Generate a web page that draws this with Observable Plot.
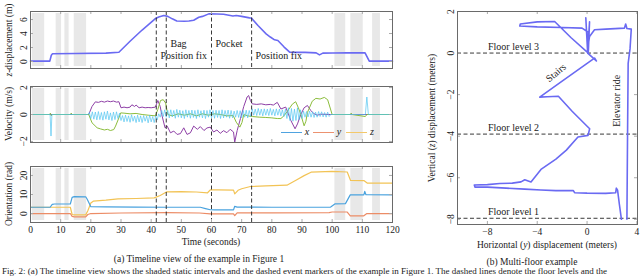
<!DOCTYPE html>
<html><head><meta charset="utf-8">
<script src="https://cdn.jsdelivr.net/npm/d3@7"></script>
<script src="https://cdn.jsdelivr.net/npm/@observablehq/plot@0.6"></script>
<style>
body{margin:0;background:#fff}
#root{position:relative;width:640px;height:276px;overflow:hidden;font-family:"Liberation Serif",serif;color:#222}
.pl{position:absolute;left:0}
.lbl{position:absolute;white-space:nowrap;font-size:9.5px;line-height:1;transform:translate(-50%,-50%)}
.rot{transform:translate(-50%,-50%) rotate(-90deg)}
.leg{position:absolute;height:0;border-top:1.5px solid}
</style></head>
<body><div id="root"></div>
<script>
// ---------- data ----------
const timeTicks = [0,10,20,30,40,50,60,70,80,90,100,110,120];
const shadeStart = [0.6, 8.5, 11.4, 14.5, 100.9, 106.2, 113.4];
const shadeEnd   = [4.7, 10.3, 12.8, 18.6, 104.5, 110.3, 116.0];
const eventTimes = [41.7, 45, 60, 73.3];

const zTicks = [0,2,4,6];
const zTime = [0,6.4,6.9,7.3,15,25,29.3,33,37,41.3,42.5,44.2,45.5,47,48.5,51,52.5,54.1,55.8,57,59.1,61.8,64,67.1,68.2,70,72.6,73.2,75.4,78.1,79.5,80.9,82,84,85.9,88,91,94.7,95.8,96.9,100.2,105,110.9,112.3,120];
const zDisp = [0.05,0.05,0.9,1.1,1.15,1.2,1.33,2.9,4.5,6.1,6.35,6.57,6.45,6.1,5.8,5.75,5.8,5.9,6.33,6.45,6.81,6.8,6.75,6.5,6.57,6.45,6.24,6.22,5.14,3.95,3.5,3.1,3.0,2.1,1.33,1.3,1.3,1.24,0.95,1.2,1.22,1.24,1.24,0.05,0.05];
const annotT = [46.4, 43.1, 61.3, 74.6];
const annotZ = [2.6, 0.85, 2.6, 0.75];
const annotText = ["Bag","Position fix","Pocket","Position fix"];

const velTicks = [-2,0,2];
const velPurple = [[0,0],[19.3,0],[20.4,0.6],[21.5,0.94],[22.5,0.9],[23.5,0.98],[24.5,0.92],[25.5,1.0],[26.5,0.95],[27.5,1.0],[28.5,0.92],[29.3,0.95],[30,0.5],[31,0.55],[32,0.5],[33,0.55],[33.6,0.72],[34.5,0.6],[35,0.7],[36,0.5],[37,0.55],[38,0.5],[39,0.52],[40,0.5],[41.4,0.55],[42.2,1.04],[43,0.6],[43.5,0],[44.6,-0.99],[45.3,-0.86],[46.4,-1.36],[47.5,-1.23],[48.6,-1.48],[49.7,-1.42],[50.8,-0.99],[51.9,-1.48],[53,-1.36],[54.1,-0.86],[55.3,-1.1],[56.3,-0.9],[57.5,-1.19],[58.5,-1.0],[59.6,-0.94],[60.7,-1.3],[61.8,-1.15],[62.9,-1.4],[64,-1.2],[65.1,-1.35],[66.2,-1.1],[67.3,-1.3],[67.7,-2.05],[68.5,-1.2],[69.6,-0.3],[70.7,0.6],[71.8,1.3],[72.3,1.41],[72.9,1.04],[73.5,0.79],[75,0.75],[76.5,0.79],[78,0.72],[79.5,0.75],[80.5,0.7],[81.8,0.9],[82.3,0.7],[83,0.41],[84.6,0.55],[86.3,-0.44],[87.7,-1.06],[88.5,-0.7],[89.6,0],[90.7,0.5],[91.8,0.67],[92.9,0.3],[94,0.05],[95.1,-0.05],[96.2,0.02],[99.5,0],[120,0]];
const velGreen = [[0,0],[6.3,0],[6.6,0.1],[6.9,-0.1],[7.2,0],[13.2,0],[13.5,0.1],[13.8,0],[19.3,0],[20.4,-0.62],[22.1,-0.99],[23.2,-1.07],[24.5,-1.15],[25.5,-1.1],[26.5,-1.19],[27.6,-1.12],[28.2,-0.86],[29.3,-0.25],[29.9,0.12],[31,0.1],[33,0.05],[35,0.08],[37,0.0],[39,-0.05],[41.4,-0.1],[42.2,0.37],[43.1,1.04],[44,1.1],[44.8,0.85],[45.5,0],[47,-0.1],[49,0.05],[51,-0.05],[53,0.05],[55,-0.1],[57,0.05],[59,-0.05],[61,0.05],[63,0],[65,-0.1],[67.2,-0.08],[68.2,-0.57],[69.4,-0.94],[70.1,-0.6],[70.7,0],[72,-0.1],[73.5,-0.15],[76,-0.2],[78,-0.22],[80,-0.25],[81.8,-0.3],[83,-0.3],[84,-0.1],[85.2,0.25],[86.8,0.77],[87.9,0.95],[88.8,0.5],[89.6,0],[90.7,-0.84],[91.3,-0.5],[91.8,0.15],[93.4,0.99],[94.6,1.2],[96,1.15],[97.4,1.27],[98.5,1.1],[100,0],[106,0],[106.3,0.1],[106.6,0],[111,-0.15],[111.5,0.0],[120,0]];
const velCyan = [[0,0],[6.5,0],[6.8,-1.6],[7.1,0],[19,0],
[19.5,0.15],[20,-0.3],[20.5,0.2],[21,-0.35],[21.5,0.18],[22,-0.4],[22.5,0.22],[23,-0.38],[23.5,0.15],[24,-0.42],[24.5,0.2],[25,-0.35],[25.5,0.25],[26,-0.4],[26.5,0.12],[27,-0.45],[27.5,0.18],[28,-0.38],[28.5,0.2],[29,-0.3],[29.5,0.1],
[30,-0.45],[30.5,-0.08],[31,-0.55],[31.5,-0.05],[32,-0.52],[32.5,-0.1],[33,-0.58],[33.5,-0.02],[34,-0.5],[34.5,-0.12],[35,-0.6],[35.5,-0.05],[36,-0.55],[36.5,-0.1],[37,-0.6],[37.5,-0.08],[38,-0.5],[38.5,-0.12],[39,-0.62],[39.5,-0.05],[40,-0.55],[40.5,-0.15],[41,-0.6],[41.5,-0.1],[42,-0.4],[42.5,0.05],[43,-0.2],
[43.5,0.3],[44,-0.15],[44.5,0.35],[45,-0.2],[45.5,0.3],[46,-0.25],[46.5,0.35],[47,-0.18],[47.5,0.3],[48,-0.28],[48.5,0.38],[49,-0.2],[49.5,0.32],[50,-0.25],[50.5,0.28],[51,-0.3],[51.5,0.35],[52,-0.2],[52.5,0.3],[53,-0.28],[53.5,0.33],[54,-0.22],[54.5,0.3],[55,-0.3],[55.5,0.35],[56,-0.2],[56.5,0.28],[57,-0.25],[57.5,0.32],[58,-0.3],[58.5,0.3],[59,-0.2],[59.5,0.35],[60,-0.25],[60.5,0.3],[61,-0.28],[61.5,0.32],[62,-0.22],[62.5,0.3],[63,-0.3],[63.5,0.35],[64,-0.25],[64.5,0.3],[65,-0.2],[65.5,0.33],[66,-0.28],[66.5,0.3],[67,-0.25],[67.5,0.25],[68,-0.2],[68.5,0.3],[69,-0.22],[69.5,0.28],[70,-0.25],[70.5,0.3],[71,-0.2],[71.5,0.32],[72,-0.25],[72.5,0.3],
[73,-0.15],[73.5,0.42],[74,-0.05],[74.5,0.4],[75,-0.08],[75.5,0.45],[76,-0.05],[76.5,0.4],[77,-0.1],[77.5,0.42],[78,-0.05],[78.5,0.4],[79,-0.08],[79.5,0.45],[80,-0.05],[80.5,0.38],[81,-0.1],[81.5,0.42],[82,-0.05],[82.5,0.4],[83,-0.1],[83.5,0.35],[84,-0.15],[84.5,0.4],
[85,-0.3],[85.5,0.5],[86,-0.45],[86.5,0.45],[87,-0.5],[87.5,0.4],[88,-0.45],[88.5,0.5],[89,-0.4],[89.5,0.35],[90,-0.3],[90.5,0.25],[91,-0.2],[91.5,0.22],[92,-0.18],[92.5,0.25],[93,-0.2],[93.5,0.2],[94,-0.22],[94.5,0.18],[95,-0.2],[95.5,0.22],[96,-0.15],[96.5,0.2],[97,-0.18],[97.5,0.15],[98,-0.2],[98.5,0.18],[99,-0.15],[99.5,0],
[111,0],[111.5,1.3],[112,0],[120,0]];

const oriTicks = [0,10,20];
const oriBlue = [[0,3.3],[6.5,3.3],[7.2,4.8],[8,5.0],[13.2,5.0],[13.8,8.5],[14.5,8.9],[18.3,8.8],[18.8,7.5],[20,3.6],[25,3.5],[35,3.4],[45,3.3],[56.3,3.3],[58,2.6],[59.6,2.0],[61,1.9],[67.3,1.9],[67.7,3.8],[68.5,3.4],[80,3.3],[99.5,3.4],[101,5.1],[104.4,5.2],[106,9.8],[110.5,9.8],[110.8,11.6],[111.2,9.9],[120,9.8]];
const oriOrange = [[0,0],[13.2,0],[13.8,-1.5],[14.5,-1.7],[18.3,-1.7],[19,-0.5],[20,0],[30,0.3],[45,0.5],[56,0.3],[59.6,-0.2],[67.3,-0.2],[67.7,-1.1],[68.5,0.4],[80,0.4],[99,0.5],[100,0.8],[105,0.8],[106,-1.2],[110.5,-1.2],[111.5,0],[120,0]];
const oriYellow = [[0,3.3],[13.2,3.3],[13.8,-0.5],[14.5,-0.7],[18.3,-0.7],[19,1.5],[20,5.5],[20.8,6.5],[25,7.0],[29,7.7],[35,7.9],[41,8.2],[43,9.5],[45.2,11.4],[50,11.5],[55,11.3],[58.7,10.9],[59.6,12.4],[62,12.4],[67.3,12.3],[67.7,10.3],[68.8,12.2],[70,13.0],[72.9,14.2],[78,14.5],[85,14.9],[88,17.5],[90.7,19.9],[93,21.7],[100,22.1],[105,21.8],[106.1,17.4],[110.5,17.3],[111.6,16],[120,16]];

const hTicks = [-8,-4,0,4];
const vTicks = [-8,-6,-4,-2,0,2];
const floorZ = [0, -3.9, -7.95];
const floorText = ["Floor level 3","Floor level 2","Floor level 1"];
const floorTextZ = [0.32, -3.6, -7.65];
const track = [[2.76,-8.0],[2.6,-7.3],[2.45,-6.6],[2.35,-6.5],[2.3,-6.72],[1.5,-6.75],[0,-6.74],[-1.0,-6.72],[-1.1,-6.62],[-2.5,-6.62],[-3.7,-6.59],[-5,-6.55],[-6.5,-6.5],[-8,-6.45],[-9.0,-6.45],[-9.05,-6.35],[-8,-6.33],[-7,-6.28],[-6,-6.26],[-5.3,-6.2],[-5.0,-6.1],[-4.5,-6.2],[-3.7,-5.6],[-2.5,-5.1],[-1.66,-4.67],[-0.73,-4.04],[0.08,-3.96],[0.21,-3.64],[-1.2,-2.8],[-2.3,-2.08],[-3.2,-2.1],[-3.8,-2.12],[-2,-1.35],[0.6,-0.24],[0.75,-0.38],[0.05,0],[-0.1,1.7],[0.05,0.05],[0.2,1.5],[0.1,0.0],[-1.3,0.75],[-2.6,1.52],[-4,1.5],[-5.36,1.4],[-5.4,1.3],[-4,1.26],[-2,1.23],[-0.4,1.2],[0.1,1.0],[0.1,0.4],[0.2,0.8],[0.6,1.12],[1.5,1.15],[3.0,1.2],[3.1,1.4],[3.2,1.18],[3.55,1.15],[3.45,0.2],[3.3,-0.5],[3.25,-4],[3.2,-8.0]];
const stairsPos = [-2.5, -0.95];
const elevPos = [2.35, -2.3];

// ---------- helpers ----------
const FONT = "Liberation Serif";
const minus = d => d < 0 ? "\u2212" + (-d) : String(d);
const root = document.getElementById("root");
function place(el, top, left = 0){ el.classList.add("pl"); el.style.top = top + "px"; el.style.left = left + "px"; root.appendChild(el); }
function label(html, x, y, rot=false, size=9.5){ const d=document.createElement("div"); d.className="lbl"+(rot?" rot":""); d.style.left=x+"px"; d.style.top=y+"px"; d.style.fontSize=size+"px"; d.innerHTML=html; root.appendChild(d); return d; }
const shades = shadeStart.map((s,i)=>({a:s,b:shadeEnd[i]}));
const style = {fontFamily: FONT, fontSize: "9.5px", background: "transparent", overflow: "visible", color: "#222"};

function timePanel({top, height, mt, mb, yDomain, yTicks, marks, showX}){
  const W = 400, ml = 30, mr = 8;
  const fw = W - ml - mr, fh = height - mt - mb;
  const p = Plot.plot({
    width: W, height, marginLeft: ml, marginRight: mr, marginTop: mt, marginBottom: mb, style,
    x: {domain: [0,120], axis: null},
    y: {domain: yDomain, axis: null},
    marks: [
      Plot.rect(shades, {x1: "a", x2: "b", fill: "#e8e8e8", insetTop: 2, insetBottom: 2}),
      ...marks,
      Plot.ruleX(eventTimes, {x: d=>d, stroke: "#222", strokeWidth: 0.9, strokeDasharray: "4,2.5"}),
      Plot.tickX(timeTicks, {x: d=>d, stroke: "#aaa", insetTop: fh-3}),
      Plot.tickX(timeTicks, {x: d=>d, stroke: "#aaa", insetBottom: fh-3}),
      Plot.tickY(yTicks, {y: d=>d, stroke: "#aaa", insetRight: fw-3}),
      Plot.tickY(yTicks, {y: d=>d, stroke: "#aaa", insetLeft: fw-3}),
      Plot.frame({stroke: "#6a6a6a", strokeWidth: 1}),
      Plot.axisY(yTicks, {tickSize: 0, tickPadding: 4, tickRotate: -90, tickFormat: minus, label: null}),
      showX ? Plot.axisX(timeTicks, {tickSize: 0, tickPadding: 4, label: null}) : null
    ]
  });
  place(p, top);
}

const lineOf = (arr, stroke, w=1, op=1) => Plot.line(arr, {x: d=>d[0], y: d=>d[1], stroke, strokeWidth: w, strokeOpacity: op});

// panel 1: z displacement
const zData = zTime.map((t,i)=>[t, zDisp[i]]);
const annots = annotT.map((t,i)=>({t, z: annotZ[i], s: annotText[i]}));
timePanel({top: 0, height: 76, mt: 11, mb: 8, yDomain: [-1, 7.15], yTicks: zTicks, showX: false, marks: [
  lineOf(zData, "#6a6af2", 1.6),
  Plot.text(annots, {x: "t", y: "z", text: "s", textAnchor: "start", fontSize: 10, fill: "#222"})
]});

// panel 2: velocity
timePanel({top: 78, height: 70, mt: 8, mb: 6, yDomain: [-2.08, 2.08], yTicks: velTicks, showX: false, marks: [
  lineOf(velPurple, "#8e3fa6", 1),
  lineOf(velGreen, "#8cbd3c", 1),
  lineOf(velCyan, "#4fc4f0", 0.8, 0.85)
]});

// panel 3: orientation
timePanel({top: 158, height: 98, mt: 8, mb: 34, yDomain: [-4.7, 24.7], yTicks: oriTicks, showX: true, marks: [
  lineOf(oriYellow, "#f2c355", 1.2),
  lineOf(oriBlue, "#49a2de", 1.2),
  lineOf(oriOrange, "#ec8c66", 1.2)
]});

// right chart
{
  const W = 220, H = 245, ml = 37, mr = 3, mt = 11, mb = 21;
  const fw = W - ml - mr, fh = H - mt - mb;
  const floors = floorZ.map((z,i)=>({z, tz: floorTextZ[i], s: floorText[i]}));
  const p = Plot.plot({
    width: W, height: H, marginLeft: ml, marginRight: mr, marginTop: mt, marginBottom: mb, style,
    x: {domain: [-10.4, 4.05], axis: null},
    y: {domain: [-8.25, 2], axis: null},
    marks: [
      Plot.ruleY(floors, {y: "z", stroke: "#222", strokeWidth: 0.9, strokeDasharray: "4,2.5"}),
      Plot.line(track, {x: d=>d[0], y: d=>d[1], stroke: "#6a6af2", strokeWidth: 1.6}),
      Plot.text(floors, {x: -7.95, y: "tz", text: "s", textAnchor: "start", fontSize: 10, fill: "#222"}),
      Plot.text([stairsPos], {x: d=>d[0], y: d=>d[1], text: ["Stairs"], rotate: -40, fontSize: 10, fill: "#222"}),
      Plot.text([elevPos], {x: d=>d[0], y: d=>d[1], text: ["Elevator ride"], rotate: -90, fontSize: 10, fill: "#222"}),
      Plot.tickX(hTicks, {x: d=>d, stroke: "#aaa", insetTop: fh-3}),
      Plot.tickX(hTicks, {x: d=>d, stroke: "#aaa", insetBottom: fh-3}),
      Plot.tickY(vTicks, {y: d=>d, stroke: "#aaa", insetRight: fw-3}),
      Plot.tickY(vTicks, {y: d=>d, stroke: "#aaa", insetLeft: fw-3}),
      Plot.frame({stroke: "#6a6a6a", strokeWidth: 1}),
      Plot.axisY(vTicks, {tickSize: 0, tickPadding: 4, tickRotate: -90, tickFormat: minus, label: null}),
      Plot.axisX(hTicks, {tickSize: 0, tickPadding: 4, tickFormat: minus, label: null})
    ]
  });
  place(p, 0, 420);
}

// legend (velocity panel)
const legColors = ["#4fa3e0", "#ec9270", "#f3c86a"];
const legNames = ["x","y","z"];
const legX = [281, 313, 346];
legColors.forEach((c,i)=>{
  const d = document.createElement("div"); d.className="leg"; d.style.left=legX[i]+"px"; d.style.top="131.5px"; d.style.width="21px"; d.style.borderColor=c; root.appendChild(d);
  label("<i>"+legNames[i]+"</i>", legX[i]+26, 132, false, 10);
});

// axis titles and captions
label("<i>z</i>-displacement (m)", 10, 40, true);
label("Velocity (m/s)", 10, 114, true);
label("Orientation (rad)", 10, 194, true);
label("Time (seconds)", 211, 243);
label("(a) Timeline view of the example in Figure 1", 199, 259.5);
label("Vertical (<i>z</i>) displacement (meters)", 433, 118, true);
label("Horizontal (<i>y</i>) displacement (meters)", 547, 246);
label("(b) Multi-floor example", 532, 262.5);
const fig = label("Fig. 2: (a) The timeline view shows the shaded static intervals and the dashed event markers of the example in Figure 1. The dashed lines denote the floor levels and the", 2, 271);
fig.style.transform = "translate(0,-50%)"; fig.style.fontSize = "9px";
</script></body></html>
